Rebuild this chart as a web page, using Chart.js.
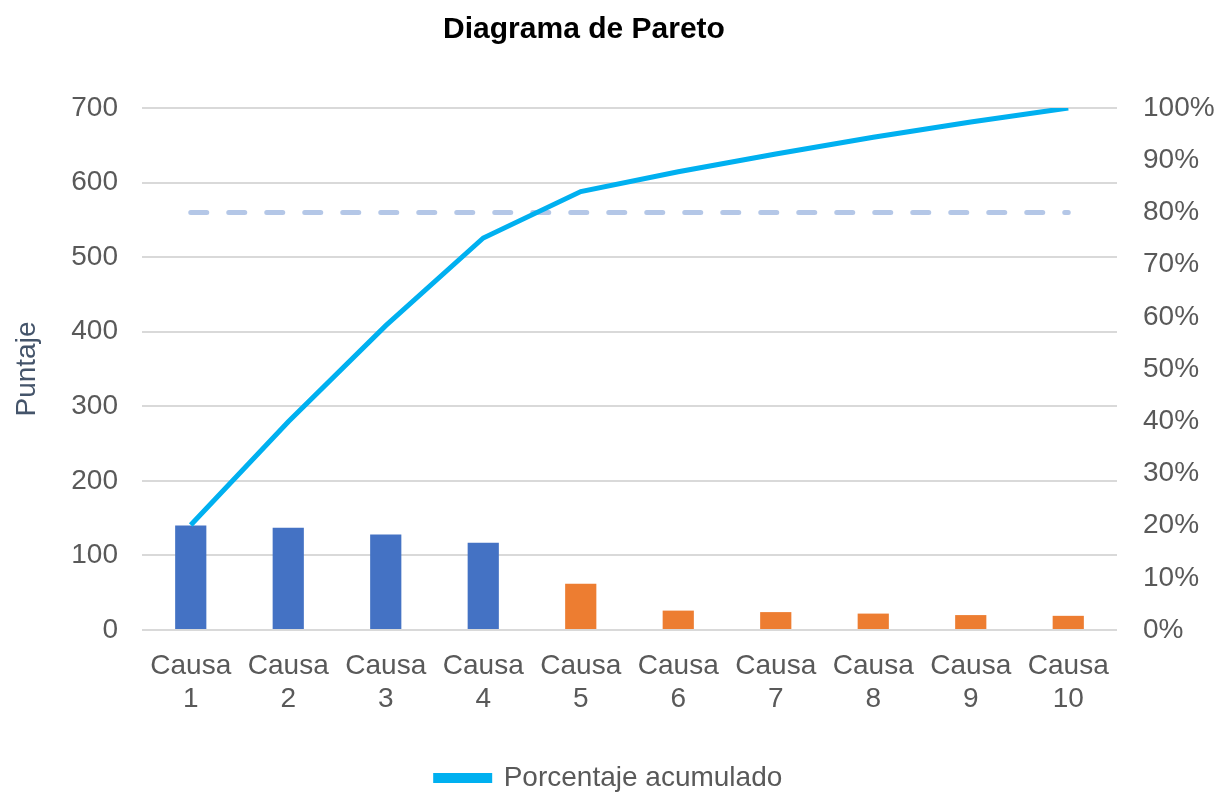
<!DOCTYPE html>
<html>
<head>
<meta charset="utf-8">
<script src="https://cdn.jsdelivr.net/npm/chart.js@4"></script>
<style>
  html, body { margin: 0; padding: 0; background: #fff; }
  #wrap { width: 1218px; height: 793px; }
</style>
</head>
<body>
<div id="wrap"><canvas id="paretoChart"></canvas></div>
<script>
// datos
const causas = [["Causa", "1"], ["Causa", "2"], ["Causa", "3"], ["Causa", "4"], ["Causa", "5"],
                ["Causa", "6"], ["Causa", "7"], ["Causa", "8"], ["Causa", "9"], ["Causa", "10"]];
const puntaje = [140, 137, 128, 117, 62, 26, 24, 22, 20, 19];
const acumulado = [20.1, 39.9, 58.3, 75.1, 84.0, 87.8, 91.2, 94.4, 97.3, 100];
const corte80 = [80, 80, 80, 80, 80, 80, 80, 80, 80, 80];
const puntajeTicks = [0, 100, 200, 300, 400, 500, 600, 700];

const colorBarras = puntaje.map((v, i) => i < 4 ? "#4472C4" : "#ED7D31");
const fontFam = "'Liberation Sans', Arial, sans-serif";

// mueve el título un poco a la izquierda y la leyenda hacia abajo, como en Excel
const ajustePosiciones = {
    id: "ajustePosiciones",
    afterLayout(chart) {
        chart.titleBlock.right -= 50;
        chart.legend.top += 9;
        chart.legend.bottom += 9;
    }
};

const ctx = document.getElementById("paretoChart").getContext("2d");
new Chart(ctx, {
    data: {
        labels: causas,
        datasets: [
            {
                type: "line",
                label: "Porcentaje acumulado",
                data: acumulado,
                yAxisID: "yPct",
                borderColor: "#00B0F0",
                backgroundColor: "#00B0F0",
                borderWidth: 5,
                pointRadius: 0,
                tension: 0,
                order: 0
            },
            {
                type: "line",
                label: "80%",
                data: corte80,
                yAxisID: "yPct",
                borderColor: "#B4C7E7",
                borderWidth: 5,
                borderDash: [16, 22],
                borderCapStyle: "round",
                pointRadius: 0,
                order: 1
            },
            {
                type: "bar",
                label: "Puntaje",
                data: puntaje,
                yAxisID: "y",
                backgroundColor: colorBarras,
                barPercentage: 0.32,
                categoryPercentage: 1.0,
                order: 2
            }
        ]
    },
    plugins: [ajustePosiciones],
    options: {
        responsive: true,
        maintainAspectRatio: false,
        animation: false,
        layout: { padding: 0 },
        plugins: {
            title: {
                display: true,
                text: "Diagrama de Pareto",
                color: "#000",
                font: { family: fontFam, size: 30, weight: "bold" },
                padding: { top: 12, bottom: 60 }
            },
            legend: {
                position: "bottom",
                labels: {
                    filter: item => item.datasetIndex === 0,
                    color: "#595959",
                    font: { family: fontFam, size: 28 },
                    boxWidth: 54,
                    boxHeight: 5,
                    padding: 4
                }
            },
            tooltip: { enabled: false }
        },
        scales: {
            x: {
                grid: { display: false, drawTicks: false },
                border: { display: false },
                ticks: {
                    color: "#595959",
                    font: { family: fontFam, size: 28, lineHeight: 1.18 },
                    padding: 20,
                    maxRotation: 0,
                    autoSkip: false
                },
                afterFit: s => { s.height = 121; }
            },
            y: {
                position: "left",
                min: 0,
                max: 700,
                afterBuildTicks: s => { s.ticks = puntajeTicks.map(v => ({ value: v })); },
                grid: { color: "#D9D9D9", lineWidth: 2, drawTicks: false },
                border: { display: false },
                ticks: {
                    color: "#595959",
                    font: { family: fontFam, size: 28 },
                    padding: 24
                },
                title: {
                    display: true,
                    text: "Puntaje",
                    color: "#44546A",
                    font: { family: fontFam, size: 28 },
                    padding: { top: 10, bottom: 0 }
                },
                afterFit: s => { s.width = 142; }
            },
            yPct: {
                position: "right",
                min: 0,
                max: 100,
                grid: { display: false, drawTicks: false },
                border: { display: false },
                ticks: {
                    stepSize: 10,
                    color: "#595959",
                    font: { family: fontFam, size: 28 },
                    padding: 26,
                    callback: v => v + "%"
                },
                afterFit: s => { s.width = 101; }
            }
        }
    }
});
</script>
</body>
</html>
